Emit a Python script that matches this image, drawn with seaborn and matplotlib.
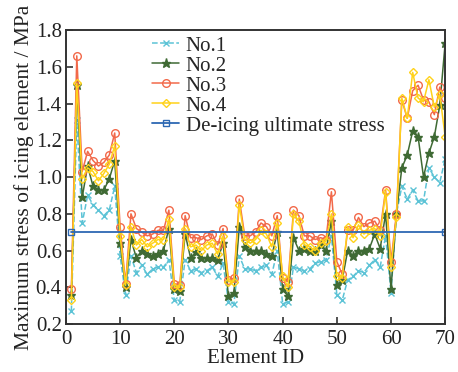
import numpy as np
import pandas as pd
import matplotlib
matplotlib.use("Agg")
import matplotlib.pyplot as plt
import seaborn as sns

# Element numbering along the conductor
element_id = list(range(1, 71))

# Maximum stress of each icing element (MPa) for the four load cases
no1 = [0.27, 1.31, 0.75, 0.90, 0.85, 0.82, 0.79, 0.82, 0.95, 0.57,
       0.36, 0.57, 0.48, 0.52, 0.47, 0.50, 0.51, 0.51, 0.55, 0.33,
       0.32, 0.55, 0.49, 0.50, 0.48, 0.49, 0.51, 0.46, 0.53, 0.32,
       0.31, 0.57, 0.50, 0.50, 0.49, 0.51, 0.52, 0.47, 0.60, 0.31,
       0.32, 0.51, 0.50, 0.49, 0.50, 0.53, 0.54, 0.55, 0.68, 0.36,
       0.33, 0.44, 0.46, 0.49, 0.48, 0.52, 0.55, 0.51, 0.68, 0.37,
       0.80, 0.95, 0.88, 0.93, 0.87, 0.87, 1.05, 1.00, 0.97, 1.10]
no2 = [0.36, 1.50, 0.89, 1.06, 0.95, 0.93, 0.93, 0.99, 1.09, 0.64,
       0.40, 0.66, 0.56, 0.60, 0.58, 0.57, 0.58, 0.60, 0.72, 0.39,
       0.38, 0.69, 0.56, 0.59, 0.56, 0.56, 0.56, 0.55, 0.64, 0.35,
       0.37, 0.73, 0.62, 0.60, 0.60, 0.60, 0.58, 0.57, 0.70, 0.39,
       0.35, 0.67, 0.60, 0.61, 0.60, 0.60, 0.63, 0.60, 0.76, 0.41,
       0.44, 0.60, 0.57, 0.60, 0.60, 0.61, 0.69, 0.61, 0.80, 0.39,
       0.80, 1.05, 1.12, 1.25, 1.22, 1.00, 1.13, 1.22, 1.39, 1.73]
no3 = [0.39, 1.66, 1.03, 1.14, 1.09, 1.06, 1.08, 1.12, 1.24, 0.73,
       0.42, 0.80, 0.72, 0.70, 0.68, 0.69, 0.71, 0.71, 0.82, 0.42,
       0.41, 0.79, 0.67, 0.67, 0.66, 0.68, 0.69, 0.63, 0.72, 0.44,
       0.45, 0.88, 0.68, 0.68, 0.70, 0.75, 0.73, 0.68, 0.79, 0.45,
       0.43, 0.82, 0.79, 0.68, 0.68, 0.66, 0.67, 0.66, 0.92, 0.54,
       0.47, 0.71, 0.71, 0.78, 0.73, 0.75, 0.76, 0.71, 0.93, 0.54,
       0.80, 1.42, 1.32, 1.47, 1.50, 1.42, 1.41, 1.34, 1.49, 1.43]
no4 = [0.33, 1.51, 0.99, 1.05, 1.03, 0.98, 1.02, 1.07, 1.17, 0.68,
       0.41, 0.73, 0.63, 0.66, 0.62, 0.64, 0.66, 0.66, 0.77, 0.40,
       0.40, 0.72, 0.62, 0.63, 0.60, 0.63, 0.64, 0.58, 0.68, 0.43,
       0.43, 0.85, 0.66, 0.64, 0.66, 0.71, 0.69, 0.62, 0.75, 0.46,
       0.40, 0.80, 0.76, 0.63, 0.62, 0.60, 0.64, 0.65, 0.80, 0.46,
       0.45, 0.73, 0.67, 0.74, 0.69, 0.71, 0.72, 0.68, 0.92, 0.51,
       0.78, 1.43, 1.32, 1.57, 1.43, 1.41, 1.53, 1.38, 1.45, 1.22]

# De-icing ultimate stress (MPa), drawn across the element range
limit_x = [1, 70]
limit_y = [0.70, 0.70]

x_ticks = [0, 10, 20, 30, 40, 50, 60, 70]
y_ticks = [0.2, 0.4, 0.6, 0.8, 1.0, 1.2, 1.4, 1.6, 1.8]

sns.set_style("white")
plt.rcParams["font.family"] = ["Liberation Serif", "DejaVu Serif"]

fig = plt.figure(figsize=(4.58, 3.72), dpi=100)
ax = fig.add_axes([0.144, 0.129, 0.828, 0.790])

series = [
    ("No.1", no1, "#5cc3d6", "x", True, 4.0, "full"),
    ("No.2", no2, "#3f6a34", "*", False, 6.5, "full"),
    ("No.3", no3, "#f2694a", "o", False, 5.5, "none"),
    ("No.4", no4, "#ffd21a", "D", False, 4.5, "none"),
]

for name, vals, col, mk, dashed, ms, fill in series:
    df = pd.DataFrame({"Element ID": element_id, "stress": vals})
    sns.lineplot(data=df, x="Element ID", y="stress", ax=ax, color=col,
                 marker=mk, markersize=ms, linewidth=1.1,
                 linestyle="--" if dashed else "-",
                 markerfacecolor=col if fill == "full" else "none",
                 markeredgecolor=col, markeredgewidth=1.0, label=name)

lim_df = pd.DataFrame({"Element ID": limit_x, "stress": limit_y})
sns.lineplot(data=lim_df, x="Element ID", y="stress", ax=ax, color="#2d68b3",
             marker="s", markersize=4.5, markerfacecolor="none",
             markeredgecolor="#2d68b3", markeredgewidth=1.0, linewidth=1.3,
             label="De-icing ultimate stress")

ax.set_xlim(0, 70)
ax.set_ylim(0.2, 1.8)
ax.set_xticks(x_ticks)
ax.set_yticks(y_ticks)
ax.set_yticklabels([f"{v:.1f}" for v in y_ticks])
ax.tick_params(axis="both", direction="in", length=5, width=1.1,
               labelsize=15, colors="#222222", labelcolor="#222222")
ax.tick_params(axis="x", pad=4)
ax.tick_params(axis="y", pad=3)
ax.tick_params(top=False, right=False, bottom=True, left=True)

for sp in ax.spines.values():
    sp.set_color("#333333")
    sp.set_linewidth(1.4)

ax.set_xlabel("Element ID", fontsize=15, labelpad=0.5, color="#222222")
ax.set_ylabel("Maximum stress of icing element / MPa", fontsize=15.5,
              labelpad=1, color="#222222")

ax.legend(loc="upper left", bbox_to_anchor=(0.2, 1.015), frameon=False,
          fontsize=15, handlelength=1.3, handletextpad=0.3,
          labelspacing=0.02, borderaxespad=0.1)

fig.savefig("out.png", dpi=100)
